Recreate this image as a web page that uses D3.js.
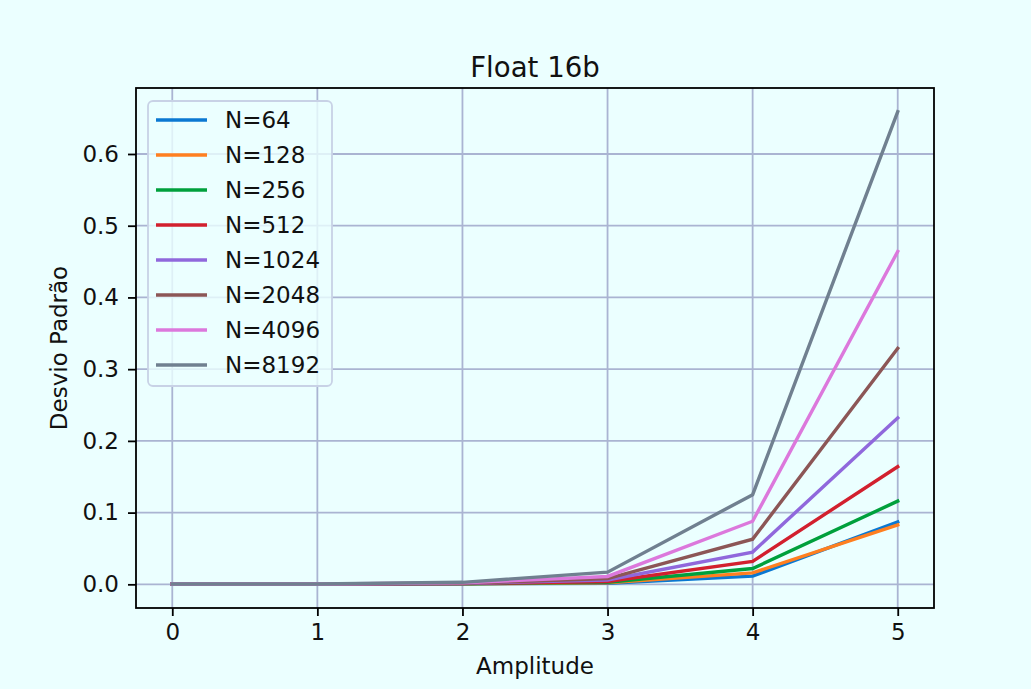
<!DOCTYPE html>
<html>
<head>
<meta charset="utf-8">
<style>
body { margin: 0; background: #ebffff; }
svg { display: block; }
text { font-family: "DejaVu Sans", sans-serif; fill: #111; }
</style>
</head>
<body>
<div id="chart"></div>
<script src="https://d3js.org/d3.v7.min.js"></script>
<script>
// amplitude values on the x axis
var amplitudes = [0, 1, 2, 3, 4, 5];

// series names and colours
var seriesNames = ["N=64", "N=128", "N=256", "N=512", "N=1024", "N=2048", "N=4096", "N=8192"];
var seriesColors = ["#0a78d2", "#ff7f20", "#00a03c", "#d2202e", "#9068dc", "#8c5656", "#dc78dc", "#708090"];

// standard deviation per series
var n64   = [0.0005, 0.0005, 0.0008, 0.0015, 0.0115, 0.087];
var n128  = [0.0005, 0.0005, 0.0008, 0.002,  0.016,  0.083];
var n256  = [0.0005, 0.0005, 0.0009, 0.003,  0.022,  0.116];
var n512  = [0.0005, 0.0005, 0.0010, 0.004,  0.032,  0.164];
var n1024 = [0.0005, 0.0005, 0.0012, 0.006,  0.045,  0.232];
var n2048 = [0.0005, 0.0005, 0.0015, 0.008,  0.063,  0.329];
var n4096 = [0.0005, 0.0005, 0.0020, 0.011,  0.088,  0.464];
var n8192 = [0.0005, 0.0005, 0.0028, 0.017,  0.125,  0.659];
var seriesValues = [n64, n128, n256, n512, n1024, n2048, n4096, n8192];

var xTicks = [0, 1, 2, 3, 4, 5];
var yTicks = [0.0, 0.1, 0.2, 0.3, 0.4, 0.5, 0.6];

var width = 1031, height = 689;
var pLeft = 136, pRight = 934, pTop = 88, pBottom = 608;

var svg = d3.select("#chart").append("svg")
	.attr("width", width)
	.attr("height", height);

svg.append("rect")
	.attr("width", width).attr("height", height)
	.attr("fill", "#ebffff");

var x = d3.scaleLinear().domain([-0.25, 5.25]).range([pLeft, pRight]);
var y = d3.scaleLinear().domain([-0.0330, 0.6920]).range([pBottom, pTop]);

// grid
var gridColor = "#aab4d2";
svg.append("g").selectAll("line").data(xTicks).enter().append("line")
	.attr("x1", function(d) { return x(d); }).attr("x2", function(d) { return x(d); })
	.attr("y1", pTop).attr("y2", pBottom)
	.attr("stroke", gridColor).attr("stroke-width", 1.8);
svg.append("g").selectAll("line").data(yTicks).enter().append("line")
	.attr("x1", pLeft).attr("x2", pRight)
	.attr("y1", function(d) { return y(d); }).attr("y2", function(d) { return y(d); })
	.attr("stroke", gridColor).attr("stroke-width", 1.8);

// lines
var line = d3.line()
	.x(function(d, i) { return x(amplitudes[i]); })
	.y(function(d) { return y(d); });

svg.append("g").selectAll("path").data(seriesValues).enter().append("path")
	.attr("d", line)
	.attr("fill", "none")
	.attr("stroke", function(d, i) { return seriesColors[i]; })
	.attr("stroke-width", 3.4)
	.attr("stroke-linecap", "square");

// frame
svg.append("rect")
	.attr("x", pLeft).attr("y", pTop)
	.attr("width", pRight - pLeft).attr("height", pBottom - pTop)
	.attr("fill", "none").attr("stroke", "#000").attr("stroke-width", 1.8);

// axes
var xAxis = svg.append("g")
	.attr("transform", "translate(0," + pBottom + ")")
	.call(d3.axisBottom(x).tickValues(xTicks).tickFormat(d3.format("d")).tickSize(8).tickPadding(8));
var yAxis = svg.append("g")
	.attr("transform", "translate(" + pLeft + ",0)")
	.call(d3.axisLeft(y).tickValues(yTicks).tickFormat(d3.format(".1f")).tickSize(8).tickPadding(9));
[xAxis, yAxis].forEach(function(a) {
	a.select(".domain").remove();
	a.selectAll(".tick line").attr("stroke", "#000").attr("stroke-width", 1.8);
	a.selectAll(".tick text").attr("font-size", 23).attr("font-family", "DejaVu Sans").attr("fill", "#111");
});

// title and labels
svg.append("text")
	.attr("x", (pLeft + pRight) / 2).attr("y", 77)
	.attr("text-anchor", "middle").attr("font-size", 27.6)
	.text("Float 16b");
svg.append("text")
	.attr("x", (pLeft + pRight) / 2).attr("y", 674)
	.attr("text-anchor", "middle").attr("font-size", 23)
	.text("Amplitude");
svg.append("text")
	.attr("transform", "translate(67," + ((pTop + pBottom) / 2) + ") rotate(-90)")
	.attr("text-anchor", "middle").attr("font-size", 23)
	.text("Desvio Padrão");

// legend
var legend = svg.append("g");
legend.append("rect")
	.attr("x", 148).attr("y", 101).attr("width", 184).attr("height", 285)
	.attr("rx", 5)
	.attr("fill", "#ebffff").attr("fill-opacity", 0.8)
	.attr("stroke", "#c8d2e6").attr("stroke-width", 1.8);
var item = legend.selectAll("g.item").data(seriesNames).enter().append("g")
	.attr("class", "item")
	.attr("transform", function(d, i) { return "translate(0," + (120 + i * 35) + ")"; });
item.append("line")
	.attr("x1", 156).attr("x2", 207)
	.attr("stroke", function(d, i) { return seriesColors[i]; })
	.attr("stroke-width", 3.4);
item.append("text")
	.attr("x", 225).attr("y", 8)
	.attr("font-size", 23)
	.text(function(d) { return d; });
</script>
</body>
</html>
